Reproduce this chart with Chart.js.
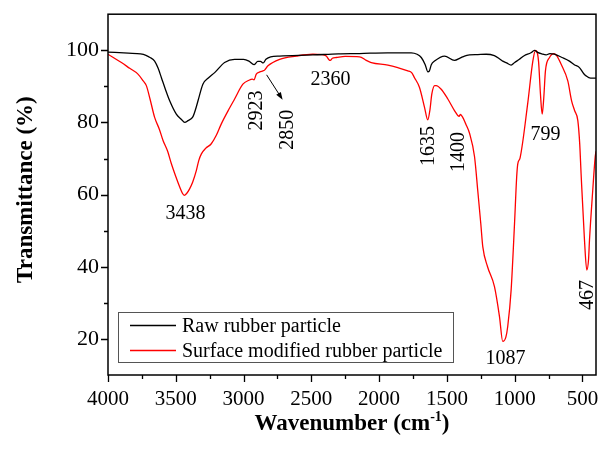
<!DOCTYPE html>
<html>
<head>
<meta charset="utf-8">
<script src="https://cdn.jsdelivr.net/npm/chart.js@4/dist/chart.umd.min.js"></script>
<style>
  body { margin: 0; background: #fff; }
  canvas { display: block; }
</style>
</head>
<body>
<canvas id="ftir" width="608" height="450"></canvas>
<script>
const SERIF = '"Liberation Serif", "Times New Roman", serif';

// raw rubber particle (black)
const rawWn = [4000, 3850, 3760, 3720, 3690, 3656, 3630, 3606, 3575, 3545, 3496, 3460, 3434, 3410, 3373, 3355, 3336,
  3300, 3260, 3213, 3140, 3066, 3000, 2960, 2923, 2895, 2875, 2855, 2835, 2800, 2734, 2490, 2300, 2144, 1938,
  1763, 1720, 1689, 1660, 1640, 1630, 1615, 1591, 1517, 1444, 1400, 1370, 1333, 1272, 1210, 1150, 1110, 1088,
  1060, 1026, 1000, 965, 930, 880, 854, 830, 800, 768, 740, 707, 650, 596, 560, 522, 490, 473, 440, 400];
const rawT = [99.5, 99.2, 99.0, 98.6, 98.0, 97.0, 95.0, 92.4, 89.0, 86.0, 82.3, 80.9, 80.0, 80.5, 81.6, 83.5, 86.0,
  90.6, 92.3, 93.8, 96.6, 97.5, 97.5, 97.0, 96.0, 96.9, 96.9, 96.5, 97.5, 98.2, 98.4, 98.7, 99.0, 99.1, 99.3,
  99.3, 98.9, 98.0, 96.0, 94.0, 94.2, 96.0, 97.0, 98.4, 97.2, 97.9, 98.4, 98.7, 98.8, 98.9, 98.5, 97.6, 97.0,
  96.5, 95.9, 96.6, 97.5, 98.5, 99.3, 100.0, 99.4, 99.0, 98.7, 99.1, 98.9, 98.0, 97.0, 96.0, 95.2, 93.5, 92.9, 92.3, 92.3];

// surface modified rubber particle (red)
const modWn = [4000, 3901, 3840, 3779, 3740, 3717, 3690, 3656, 3620, 3594, 3560, 3533, 3500, 3471, 3450, 3438,
  3420, 3398, 3375, 3348, 3330, 3311, 3280, 3238, 3200, 3164, 3103, 3066, 3005, 2960, 2935, 2923, 2906, 2880,
  2857, 2845, 2820, 2734, 2611, 2489, 2420, 2390, 2370, 2360, 2345, 2316, 2250, 2144, 2095, 2058, 1935, 1862,
  1788, 1760, 1739, 1702, 1665, 1641, 1625, 1611, 1590, 1579, 1542, 1493, 1444, 1410, 1400, 1383, 1360, 1333,
  1296, 1272, 1250, 1235, 1200, 1149, 1112, 1088, 1065, 1051, 1026, 1001, 985, 977, 960, 903, 866, 846, 824,
  810, 797, 785, 773, 743, 711, 690, 657, 608, 580, 558, 534, 520, 510, 485, 468, 455, 448, 424, 406, 400];
const modT = [98.9, 96.6, 95.0, 93.4, 91.5, 90.2, 86.5, 81.4, 78.0, 75.0, 72.0, 68.6, 65.0, 62.1, 60.3, 59.8,
  60.3, 61.6, 63.5, 66.7, 69.5, 71.3, 72.8, 74.1, 76.5, 79.6, 84.0, 86.5, 90.6, 91.7, 92.0, 91.8, 93.4, 94.0,
  94.3, 94.5, 95.7, 97.5, 98.4, 98.9, 98.8, 98.4, 97.4, 97.2, 97.8, 98.0, 98.3, 98.2, 97.2, 96.6, 95.9, 95.2,
  94.3, 93.8, 92.4, 89.7, 84.2, 80.7, 83.5, 87.9, 90.2, 90.2, 89.2, 86.5, 83.3, 81.7, 82.2, 81.4, 79.5, 77.0,
  70.5, 61.0, 52.0, 45.5, 40.0, 34.5, 26.2, 19.3, 20.5, 23.5, 33.6, 52.0, 65.0, 68.5, 70.2, 85.5, 97.0, 100.0, 97.0,
  88.0, 82.3, 87.0, 94.3, 98.0, 99.1, 98.5, 96.1, 91.5, 86.0, 83.3, 80.5, 74.0, 65.8, 47.4, 39.1, 42.0, 47.4, 61.2, 70.4, 72.0];

const seriesNames = ['Raw rubber particle', 'Surface modified rubber particle'];
const seriesColors = ['#000000', '#ff0000'];

// peak labels: text, wavenumber, transmittance, rotated?
const annText = ['3438', '2923', '2850', '2360', '1635', '1400', '799', '1087', '467'];
const annWn = [3429, 2906, 2675, 2358, 1635, 1414, 773, 1068, 463];
const annT = [54.6, 83.3, 78.0, 91.8, 73.5, 71.8, 76.6, 14.6, 32.2];
const annRot = [false, true, true, false, true, true, false, false, true];

// arrow pointing at 2850
const arrowWn = [2830, 2712];
const arrowT = [93.2, 86.3];

const xMin = 400, xMax = 4000;
const yMin = 10, yMax = 110;

const toPts = (xs, ys) => xs.map((v, i) => ({ x: v, y: ys[i] }));

const decor = {
  id: 'decor',
  afterDraw(chart) {
    const { ctx, chartArea: a, scales: { x, y } } = chart;
    ctx.save();
    ctx.strokeStyle = '#000';
    ctx.lineWidth = 1.5;
    ctx.strokeRect(a.left, a.top, a.right - a.left, a.bottom - a.top);

    // tick marks, long on labelled ones
    ctx.lineWidth = 1.3;
    ctx.beginPath();
    x.ticks.forEach(t => {
      if (t.value < xMin || t.value > xMax) return;
      const px = Math.round(x.getPixelForValue(t.value)) + 0.5;
      const len = t.value % 500 === 0 ? 7 : 4;
      ctx.moveTo(px, a.bottom);
      ctx.lineTo(px, a.bottom + len);
    });
    y.ticks.forEach(t => {
      if (t.value <= yMin || t.value >= yMax) return;
      const py = Math.round(y.getPixelForValue(t.value)) + 0.5;
      const len = t.value % 20 === 0 ? 7 : 4;
      ctx.moveTo(a.left, py);
      ctx.lineTo(a.left - len, py);
    });
    ctx.stroke();

    // peak labels
    ctx.fillStyle = '#000';
    ctx.font = '20px ' + SERIF;
    ctx.textAlign = 'center';
    ctx.textBaseline = 'middle';
    annText.forEach((s, i) => {
      const px = x.getPixelForValue(annWn[i]);
      const py = y.getPixelForValue(annT[i]);
      ctx.save();
      ctx.translate(px, py);
      if (annRot[i]) ctx.rotate(-Math.PI / 2);
      ctx.fillText(s, 0, 0);
      ctx.restore();
    });

    // arrow
    const x0 = x.getPixelForValue(arrowWn[0]), y0 = y.getPixelForValue(arrowT[0]);
    const x1 = x.getPixelForValue(arrowWn[1]), y1 = y.getPixelForValue(arrowT[1]);
    const ang = Math.atan2(y1 - y0, x1 - x0);
    ctx.lineWidth = 1;
    ctx.beginPath();
    ctx.moveTo(x0, y0);
    ctx.lineTo(x1 - 5 * Math.cos(ang), y1 - 5 * Math.sin(ang));
    ctx.stroke();
    ctx.beginPath();
    ctx.moveTo(x1, y1);
    ctx.lineTo(x1 - 8 * Math.cos(ang - 0.35), y1 - 8 * Math.sin(ang - 0.35));
    ctx.lineTo(x1 - 8 * Math.cos(ang + 0.35), y1 - 8 * Math.sin(ang + 0.35));
    ctx.closePath();
    ctx.fill();

    // legend box
    const lx = 118.5, ly = 312.5, lw = 335, lh = 50;
    ctx.fillStyle = '#fff';
    ctx.fillRect(lx, ly, lw, lh);
    ctx.strokeStyle = '#555';
    ctx.lineWidth = 1;
    ctx.strokeRect(lx, ly, lw, lh);
    ctx.font = '20px ' + SERIF;
    ctx.textAlign = 'left';
    seriesNames.forEach((n, i) => {
      const ry = 325.5 + i * 25;
      ctx.strokeStyle = seriesColors[i];
      ctx.lineWidth = 1.3;
      ctx.beginPath();
      ctx.moveTo(130, ry);
      ctx.lineTo(176, ry);
      ctx.stroke();
      ctx.fillStyle = '#000';
      ctx.fillText(n, 182, ry + 1);
    });

    // axis titles
    ctx.font = 'bold 23px ' + SERIF;
    ctx.textAlign = 'center';
    ctx.save();
    ctx.translate(26, (a.top + a.bottom) / 2 - 5);
    ctx.rotate(-Math.PI / 2);
    ctx.fillText('Transmittance (%)', 0, 0);
    ctx.restore();

    const main = 'Wavenumber (cm', sup = '-1', tail = ')';
    const wMain = ctx.measureText(main).width;
    const wTail = ctx.measureText(tail).width;
    ctx.font = 'bold 14px ' + SERIF;
    const wSup = ctx.measureText(sup).width;
    const total = wMain + wSup + wTail;
    let tx = (a.left + a.right) / 2 - total / 2;
    const base = 430;
    ctx.textAlign = 'left';
    ctx.textBaseline = 'alphabetic';
    ctx.font = 'bold 23px ' + SERIF;
    ctx.fillText(main, tx, base);
    tx += wMain;
    ctx.font = 'bold 14px ' + SERIF;
    ctx.fillText(sup, tx, base - 9);
    tx += wSup;
    ctx.font = 'bold 23px ' + SERIF;
    ctx.fillText(tail, tx, base);
    ctx.restore();
  }
};

new Chart(document.getElementById('ftir'), {
  type: 'line',
  data: {
    datasets: [
      { label: seriesNames[0], data: toPts(rawWn, rawT), borderColor: seriesColors[0], borderWidth: 1.3,
        pointRadius: 0, cubicInterpolationMode: 'monotone', fill: false },
      { label: seriesNames[1], data: toPts(modWn, modT), borderColor: seriesColors[1], borderWidth: 1.3,
        pointRadius: 0, cubicInterpolationMode: 'monotone', fill: false }
    ]
  },
  options: {
    responsive: false,
    animation: false,
    layout: { padding: { top: 12, right: 12, left: 0, bottom: 0 } },
    plugins: { legend: { display: false }, tooltip: { enabled: false } },
    scales: {
      x: {
        type: 'linear', reverse: true, min: xMin, max: xMax,
        ticks: {
          stepSize: 250, includeBounds: false, autoSkip: false, maxRotation: 0, padding: 4,
          color: '#000', font: { family: SERIF, size: 21 },
          callback: v => (v % 500 === 0 ? String(v) : '')
        },
        grid: { display: true, drawOnChartArea: false, tickLength: 8, tickColor: 'rgba(0,0,0,0)' },
        border: { display: false },
        afterFit: s => { s.height = 75; }
      },
      y: {
        type: 'linear', min: yMin, max: yMax,
        ticks: {
          stepSize: 10, includeBounds: false, autoSkip: false, padding: 1,
          color: '#000', font: { family: SERIF, size: 22 },
          callback: v => (v % 20 === 0 && v >= 20 && v <= 100 ? String(v) : '')
        },
        grid: { display: true, drawOnChartArea: false, tickLength: 8, tickColor: 'rgba(0,0,0,0)' },
        border: { display: false },
        afterFit: s => { s.width = 108; }
      }
    }
  },
  plugins: [decor]
});
</script>
</body>
</html>
